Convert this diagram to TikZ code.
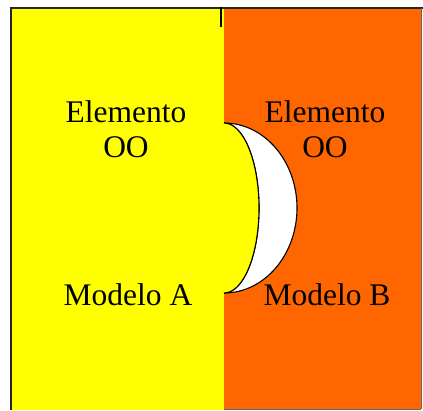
\documentclass[tikz,border=0pt]{standalone}
\usepackage{fontspec}
\setmainfont{Liberation Serif}
\definecolor{ylw}{HTML}{FFFF00}
\definecolor{org}{HTML}{FF6600}
\begin{document}
\begin{tikzpicture}[x=1pt,y=-1pt,
  lbl/.style={font=\fontsize{31.5}{35}\selectfont, align=center, inner sep=0pt, text=black}]
\useasboundingbox (0,0) rectangle (423,410);
% panels
\fill[ylw] (11,8) rectangle (224,410);
\fill[org] (224,8) rectangle (421,409);
% borders
\draw[line width=2pt, black!85] (11,8) -- (423,8);
\draw[line width=2pt, black!85] (11,7) -- (11,410);
\draw[line width=0.8pt, black!60] (421,8) -- (421,409);
\draw[line width=0.8pt, black!60] (224,409) -- (421,409);
\draw[line width=2pt, black] (221,7) -- (221,27);
% crescent
\filldraw[fill=white, draw=black, line width=1.1pt]
  (224,123) arc[start angle=-90, end angle=90, x radius=73, y radius=85]
  arc[start angle=90, end angle=-90, x radius=35, y radius=85];
\fill[ylw] (224,123) arc[start angle=-90, end angle=90, x radius=35, y radius=85] -- cycle;
\draw[black, line width=1.1pt] (224,123) arc[start angle=-90, end angle=90, x radius=35, y radius=85];
% texts
\node[lbl, anchor=base] (ea) at (126,157) {Elemento\\OO};
\node[lbl, anchor=base] (eb) at (325,157) {Elemento\\OO};
\node[lbl, anchor=base] (ma) at (128,305) {Modelo A};
\node[lbl, anchor=base] (mb) at (327,305) {Modelo B};
\end{tikzpicture}
\end{document}
